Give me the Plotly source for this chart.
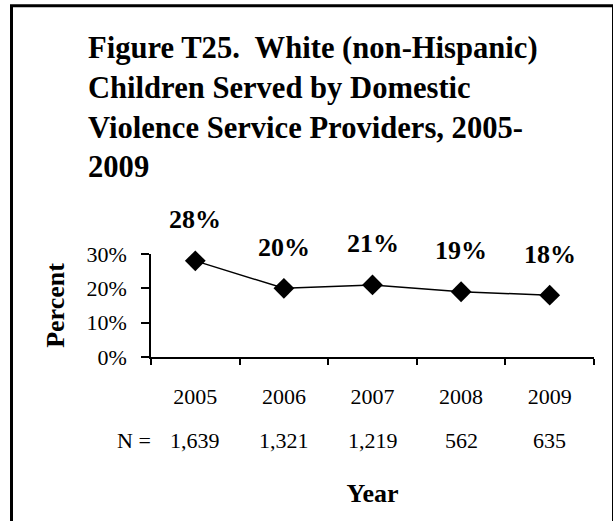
import plotly.graph_objects as go

years = ["2005", "2006", "2007", "2008", "2009"]
percent = [28, 20, 21, 19, 18]
n_served = [1639, 1321, 1219, 562, 635]
y_ticks = [0, 10, 20, 30]
title_lines = ["Figure T25.  White (non-Hispanic)", "Children Served by Domestic",
               "Violence Service Providers, 2005-", "2009"]

SERIF = "Liberation Serif, Times New Roman, serif"
W, H = 613, 521
L, R, T, B = 151, 19, 254, 164
PW, PH = W - L - R, H - T - B

fig = go.Figure()
fig.add_trace(go.Scatter(
    x=years, y=[p / 100 for p in percent], mode="lines+markers",
    line=dict(color="black", width=1.5),
    marker=dict(symbol="diamond", size=16, color="black"),
    showlegend=False, cliponaxis=False, hoverinfo="skip",
))

annotations = []
for i, p in enumerate(percent):
    annotations.append(dict(x=i, y=p / 100, xref="x", yref="y", text=f"{p}%",
                            showarrow=False, yshift=41, yanchor="middle",
                            font=dict(family=SERIF, size=26, color="black", weight="bold")))
for i, n in enumerate(n_served):
    annotations.append(dict(x=i, y=(T + PH - 440) / PH, xref="x", yref="paper", text=f"{n:,}",
                            showarrow=False, yanchor="middle",
                            font=dict(family=SERIF, size=22, color="black")))
annotations.append(dict(x=(153 - L) / PW, y=(T + PH - 440) / PH, xref="paper", yref="paper",
                        text="N =", showarrow=False, xanchor="right", yanchor="middle",
                        font=dict(family=SERIF, size=22, color="black")))

fig.update_layout(
    width=W, height=H,
    margin=dict(l=L, r=R, t=T, b=B, autoexpand=False),
    paper_bgcolor="white", plot_bgcolor="white",
    font=dict(family=SERIF, color="black"),
    title=dict(text="<br>".join(title_lines), x=88 / W, xanchor="left",
               y=1 - 58 / H, yanchor="top", xref="container", yref="container",
               font=dict(family=SERIF, size=30.6, color="black", weight="bold")),
    annotations=annotations,
    shapes=[dict(type="rect", xref="paper", yref="paper",
                 x0=(11.5 - L) / PW, x1=(613.5 - L) / PW,
                 y0=(T + PH - 540) / PH, y1=(T + PH - 5.7) / PH,
                 line=dict(color="black", width=3), fillcolor="rgba(0,0,0,0)",
                 layer="below")],
)
fig.update_xaxes(
    type="category", range=[-0.5, 4.5], tickson="boundaries",
    ticks="outside", ticklen=6, tickwidth=1.5, tickcolor="black",
    showline=True, linecolor="black", linewidth=1.5, showgrid=False, zeroline=False,
    tickfont=dict(family=SERIF, size=22, color="black"), ticklabelstandoff=19,
    title=dict(text="Year", standoff=76,
               font=dict(family=SERIF, size=26, color="black", weight="bold")),
    automargin=False,
)
fig.update_yaxes(
    range=[0, 0.3], tickvals=[v / 100 for v in y_ticks], tickformat=".0%",
    ticks="outside", ticklen=8, tickwidth=1.5, tickcolor="black",
    showline=True, linecolor="black", linewidth=1.5, showgrid=False, zeroline=False,
    tickfont=dict(family=SERIF, size=22, color="black"), ticklabelstandoff=10,
    title=dict(text="Percent", standoff=14,
               font=dict(family=SERIF, size=26, color="black", weight="bold")),
    automargin=False,
)
fig.write_html("out.html", config={"displayModeBar": False},
               post_script="document.body.style.margin='0';")
